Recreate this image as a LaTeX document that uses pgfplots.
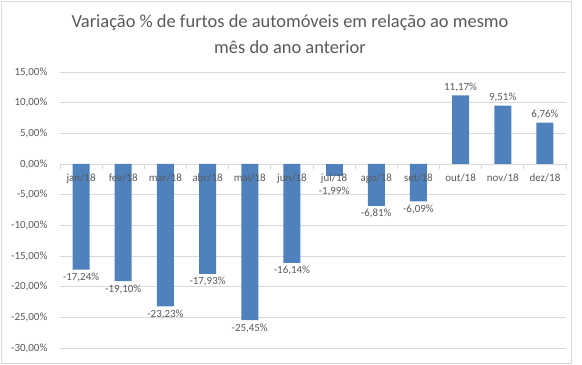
\documentclass[border=0pt]{standalone}
\usepackage{pgfplots}
\pgfplotsset{compat=1.18}
\usepackage{fontspec}
\setmainfont{Carlito}
\definecolor{barblue}{HTML}{4F81BD}
\definecolor{txt}{HTML}{595959}
\definecolor{gridc}{HTML}{D9D9D9}
\pgfplotsset{
  common/.style={
    at={(0,0)}, anchor=south west,
    scale only axis,
    width=506bp, height=276bp,
    xmin=-0.5, xmax=11.5,
    ymin=-30, ymax=15,
    axis x line=middle,
    axis y line=left,
    y axis line style={draw=none},
    major y tick style={draw=none},
    major x tick style={draw=none},
    ticklabel style={font=\fontsize{11}{13}\selectfont, text=txt},
    xticklabel style={yshift=-4bp},
    yticklabel style={xshift=-7bp},
    clip=false,
  }
}
\begin{document}
\begin{tikzpicture}
\path[use as bounding box] (-60bp,-17bp) rectangle (522bp,348bp);
\draw[gridc, line width=0.8bp] (-59bp,-15bp) rectangle (511bp,347bp);
\begin{axis}[
  common,
  x axis line style={-, draw=gridc, line width=0.8bp},
  xtick={0,...,11},
  xticklabels={},
  minor xtick={-0.5,0.5,...,11.5},
  minor x tick style={draw=gridc, line width=0.8bp},
  minor tick length=5.5bp,
  ytick={-30,-25,...,15},
  ymajorgrids,
  grid style={gridc, line width=0.8bp},
  /pgf/number format/assume math mode=true,
  yticklabel={\pgfmathprintnumber[fixed,fixed zerofill,precision=2,use comma]{\tick}\%},
  ybar, bar width=17bp, bar shift=0pt,
  nodes near coords={\pgfmathprintnumber[fixed,fixed zerofill,precision=2,use comma,assume math mode=true]{\pgfplotspointmeta}\%},
  every node near coord/.append style={font=\fontsize{11}{13}\selectfont, text=txt},
]
\addplot[fill=barblue, draw=none, nodes near coords align=below] coordinates {
(0,-17.24) (1,-19.10) (2,-23.23) (3,-17.93) (4,-25.45) (5,-16.14) (7,-6.81) (8,-6.09)};
\addplot[fill=barblue, draw=none, nodes near coords align=below,
  every node near coord/.append style={yshift=-7bp}] coordinates {
(6,-1.99)};
\addplot[fill=barblue, draw=none, nodes near coords align=above] coordinates {
(9,11.17) (10,9.51) (11,6.76)};
\end{axis}
\begin{axis}[
  common,
  x axis line style={draw=none},
  xtick={0,...,11},
  xticklabels={jan/18,fev/18,mar/18,abr/18,mai/18,jun/18,jul/18,ago/18,set/18,out/18,nov/18,dez/18},
  ytick=\empty,
]
\end{axis}
\node[text=txt, font=\fontsize{18.5}{22}\selectfont] at (230bp,325bp) {Variação \% de furtos de automóveis em relação ao mesmo};
\node[text=txt, font=\fontsize{18.5}{22}\selectfont] at (230bp,301bp) {mês do ano anterior};
\end{tikzpicture}
\end{document}
